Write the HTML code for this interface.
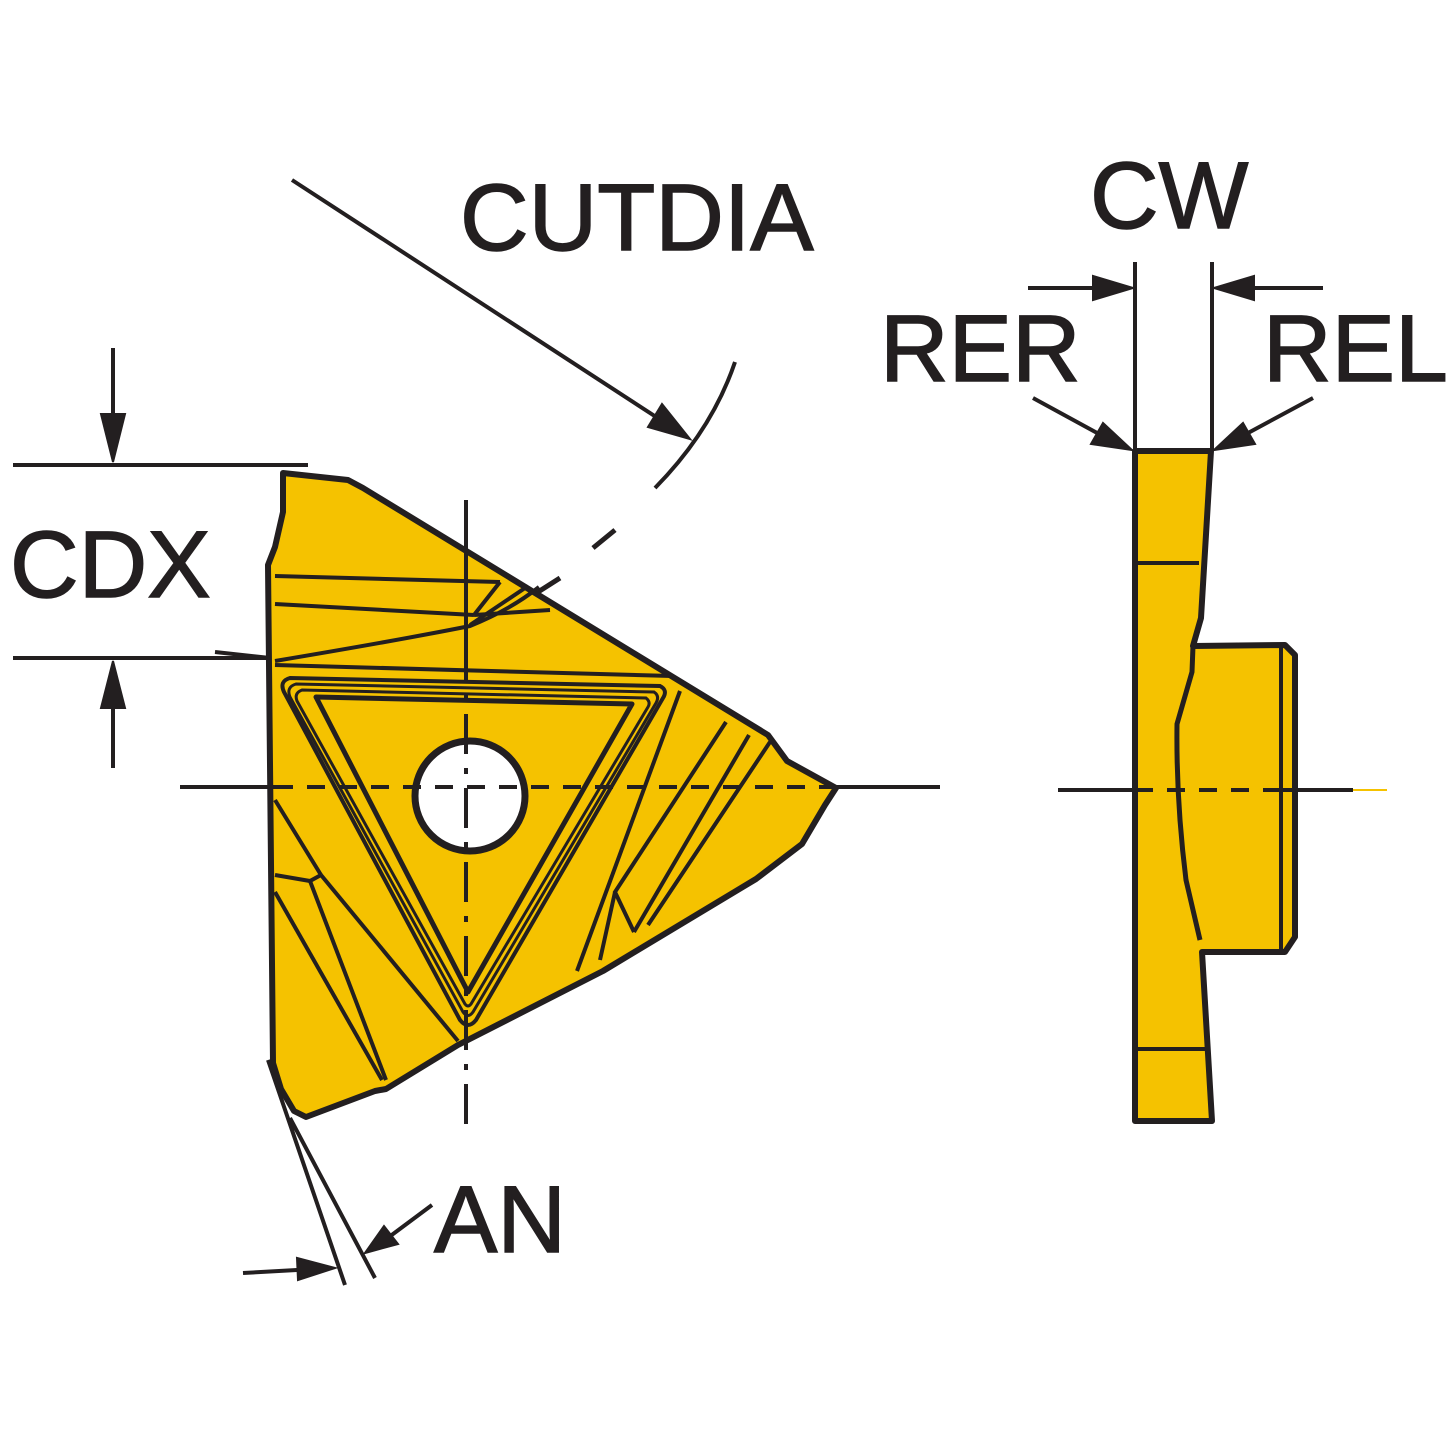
<!DOCTYPE html>
<html><head><meta charset="utf-8"><style>
html,body{margin:0;padding:0;background:#fff;}
svg{display:block;}
text{font-family:"Liberation Sans",sans-serif;fill:#231f20;stroke:#231f20;stroke-width:1.5px;}
</style></head><body>
<svg width="1447" height="1447" viewBox="0 0 1447 1447" xmlns="http://www.w3.org/2000/svg">
<g stroke="#231f20" fill="none" stroke-linecap="butt">
<path d="M283,473 L348,480 L363,488 L768,735 L787,761 L836,788 L825,805 L802,844 L756,879 L603,971 L458,1045 L386,1089 L375,1091 L306,1117 L294,1111 L281,1089 L273,1063 L268,565 L275,547 L283,512 Z" fill="#F5C200" stroke-width="6" stroke-linejoin="round"/>
<g stroke-width="4">
<path d="M275,576 L500,582"/>
<path d="M275,604 L474,615"/>
<path d="M275,661 Q400,640 470,626 Q510,610 539,587"/>
<path d="M275,665 L672,676"/>
<path d="M500,582 L474,615"/>
<path d="M528,586 L470,625"/>
<path d="M474,615 L550,610"/>
<path d="M290,678 L660,686 Q668,690 663,698 L476,1020 Q468,1030 460,1020 L284,692 Q279,681 290,678 Z"/>
<path d="M296,684 L654,692 Q660,696 656,703 L473,1012 Q468,1019 463,1012 L290,697 Q286,687 296,684 Z" stroke-width="3"/>
<path d="M302,690 L646,698 Q651,702 648,707 L471,1004 Q468,1008 465,1004 L297,701 Q294,693 302,690 Z" stroke-width="3"/>
<path d="M316,697 L632,704 L468,992 Z" stroke-width="5" stroke-linejoin="round"/>
<path d="M275,875 L310,881 L321,875"/>
<path d="M310,881 L386,1080"/>
<path d="M321,875 L458,1041"/>
<path d="M275,892 L382,1080"/>
<path d="M275,800 L321,875"/>
<path d="M726,722 L615,892 L634,932"/>
<path d="M749,735 L634,932"/>
<path d="M680,691 L577,971"/>
<path d="M615,892 L600,960"/>
<path d="M770,742 L648,925"/>
</g>
<circle cx="470" cy="796" r="55" fill="#fff" stroke-width="7"/>
<path d="M180,787 L275,787" stroke-width="4"/>
<path d="M275,787 L836,787" stroke-width="4" stroke-dasharray="18,14"/>
<path d="M836,787 L940,787" stroke-width="4"/>
<path d="M466,500 L466,640" stroke-width="4"/>
<path d="M466,640 L466,1138" stroke-width="4" stroke-dasharray="40,14,6,14"/>
<path d="M13,465 L308,465 M13,658 L270,658 M215,652 L270,658" stroke-width="4"/>
<path d="M113,348 L113,440 M113,680 L113,768" stroke-width="4"/>
<path d="M101,414 L113,462 L125,414 Z M101,708 L113,661 L125,708 Z" fill="#231f20" stroke-width="2"/>
<path d="M292,180 L670,426" stroke-width="4"/>
<path d="M690,439 L648,427 L662,404 Z" fill="#231f20" stroke-width="2"/>
<path d="M735,362 Q712,430 655,488" stroke-width="4"/>
<path d="M615,530 L593,548 M560,578 L538,592" stroke-width="5"/>
<path d="M268,1060 L345,1285 M290,1118 L375,1278" stroke-width="4"/>
<path d="M243,1273 L315,1269 M432,1205 L385,1240" stroke-width="4"/>
<path d="M335,1268 L298,1280 L297,1258 Z M365,1253 L384,1226 L398,1244 Z" fill="#231f20" stroke-width="2"/>
<path d="M1135,451 L1211,451 L1201,618 L1193,646 L1285,645 L1295,655 L1295,937 L1285,952 L1202,952 L1212,1121 L1135,1121 Z" fill="#F5C200" stroke-width="6" stroke-linejoin="round"/>
<path d="M1193,646 L1192,672 L1177,724 Q1176,800 1186,880 L1200,940" stroke-width="5"/>
<path d="M1135,563 L1199,563 M1135,1049 L1205,1049 M1281,645 L1281,950" stroke-width="4"/>
<path d="M1135,262 L1135,451 M1212,262 L1212,451" stroke-width="4"/>
<path d="M1028,288 L1110,288 M1323,288 L1238,288" stroke-width="4"/>
<path d="M1133,288 L1093,276 L1093,300 Z M1214,288 L1254,276 L1254,300 Z" fill="#231f20" stroke-width="2"/>
<path d="M1033,398 L1110,440 M1313,398 L1235,440" stroke-width="4"/>
<path d="M1132,450 L1091,444 L1103,423 Z M1214,450 L1243,423 L1255,444 Z" fill="#231f20" stroke-width="2"/>
<path d="M1058,790 L1135,790 M1281,790 L1353,790" stroke-width="4"/>
<path d="M1135,790 L1281,790" stroke-width="4" stroke-dasharray="18,14"/>
<path d="M1353,790 L1387,790" stroke="#F5C200" stroke-width="2"/>
</g>
<text x="460" y="250" font-size="95">CUTDIA</text>
<text x="1090" y="228" font-size="95">CW</text>
<text x="880" y="381" font-size="95">RER</text>
<text x="1263" y="381" font-size="95">REL</text>
<text x="10" y="597" font-size="95">CDX</text>
<text x="434" y="1252" font-size="95">AN</text>
</svg>
</body></html>
